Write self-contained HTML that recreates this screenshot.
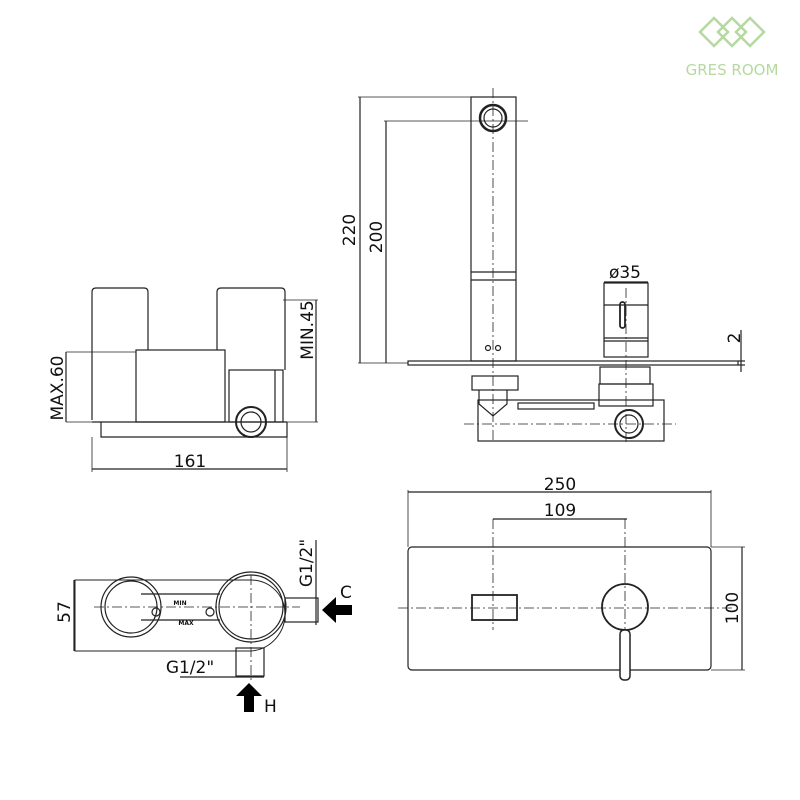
<!DOCTYPE html>
<html><head><meta charset="utf-8"><style>body{margin:0;background:#fff}svg{display:block}text{font-family:"DejaVu Sans","Liberation Sans",sans-serif;fill:#111}</style></head><body>
<svg width="800" height="800" viewBox="0 0 800 800" xmlns="http://www.w3.org/2000/svg">
<g fill="none" stroke="#222" stroke-width="1.2">
<!-- logo -->
<g stroke="#b5d9a0" stroke-width="2.5"><path d="M700 32l14-14 14 14-14 14z"/><path d="M718 32l14-14 14 14-14 14z"/><path d="M736 32l14-14 14 14-14 14z"/></g>
<!-- top-left view -->
<path d="M92 420V292q0-4 4-4h48q4 0 4 4v58"/>
<path d="M217 350v-58q0-4 4-4h60q4 0 4 4v78"/>
<rect x="136" y="350" width="89" height="72"/>
<rect x="229" y="370" width="54" height="52"/>
<line x1="275" y1="370" x2="275" y2="422"/>
<line x1="92" y1="422" x2="287" y2="422"/>
<path d="M101 422v15h186v-15"/>
<circle cx="251" cy="422" r="15" stroke-width="2"/><circle cx="251" cy="422" r="10"/>
<line x1="66" y1="352" x2="136" y2="352" stroke-width=".8"/><line x1="66" y1="422" x2="92" y2="422" stroke-width=".8"/>
<line x1="66" y1="352" x2="66" y2="422"/>
<line x1="283" y1="300" x2="318" y2="300" stroke-width=".8"/><line x1="287" y1="422" x2="318" y2="422" stroke-width=".8"/>
<line x1="316" y1="300" x2="316" y2="422"/>
<line x1="92" y1="437" x2="92" y2="472" stroke-width=".8"/><line x1="287" y1="437" x2="287" y2="472" stroke-width=".8"/>
<line x1="92" y1="469" x2="287" y2="469"/>
<!-- side view -->
<rect x="471" y="97" width="45" height="264"/>
<line x1="471" y1="272" x2="516" y2="272"/><line x1="471" y1="280" x2="516" y2="280"/>
<circle cx="493" cy="118" r="13" stroke-width="2.5"/><circle cx="493" cy="118" r="9"/>
<circle cx="488" cy="348" r="2.5"/><circle cx="498" cy="348" r="2.5"/>
<line x1="493" y1="88" x2="493" y2="440" stroke-dasharray="10 3 2 3" stroke-width=".8"/>
<rect x="408" y="361" width="330" height="4"/>
<line x1="358" y1="97" x2="471" y2="97" stroke-width=".8"/><line x1="384" y1="121" x2="528" y2="121" stroke-width=".8"/>
<line x1="360" y1="97" x2="360" y2="363"/><line x1="386" y1="121" x2="386" y2="363"/>
<line x1="358" y1="363" x2="408" y2="363" stroke-width=".8"/>
<rect x="604" y="283" width="44" height="74"/>
<line x1="604" y1="305" x2="648" y2="305"/><line x1="604" y1="338" x2="648" y2="338"/><line x1="604" y1="341" x2="648" y2="341"/>
<rect x="620" y="302" width="5" height="26" rx="2.5" stroke-width="1.8"/>
<line x1="626" y1="288" x2="626" y2="445" stroke-dasharray="10 3 2 3" stroke-width=".8"/>
<line x1="604" y1="282" x2="648" y2="282"/>
<rect x="600" y="367" width="50" height="17"/><rect x="599" y="384" width="54" height="22"/>
<rect x="472" y="376" width="46" height="14"/>
<path d="M479 390v14l14 12 14-12v-14"/>
<rect x="518" y="403" width="76" height="6"/>
<rect x="478" y="400" width="186" height="41"/>
<line x1="464" y1="424" x2="676" y2="424" stroke-dasharray="10 3 2 3" stroke-width=".8"/>
<circle cx="629" cy="424" r="14" stroke-width="2"/><circle cx="629" cy="424" r="9"/>
<line x1="741" y1="330" x2="741" y2="372"/>
<line x1="738" y1="361" x2="745" y2="361"/><line x1="738" y1="365" x2="745" y2="365"/>
<!-- bottom-left view -->
<path d="M75 580h176a34 34 0 0 1 34 34v0a37 37 0 0 1-34 37H75z" stroke-width="1"/>
<circle cx="131" cy="607" r="30"/><circle cx="131" cy="607" r="26"/>
<circle cx="251" cy="607" r="35"/><circle cx="251" cy="607" r="32"/>
<line x1="141" y1="594" x2="220" y2="594"/><line x1="141" y1="620" x2="220" y2="620"/>
<circle cx="156" cy="612" r="4"/><circle cx="210" cy="612" r="4"/>
<rect x="285" y="598" width="33" height="24"/>
<rect x="236" y="648" width="28" height="28"/>
<line x1="94" y1="607" x2="300" y2="607" stroke-dasharray="10 3 2 3" stroke-width=".8"/>
<line x1="251" y1="575" x2="251" y2="680" stroke-dasharray="10 3 2 3" stroke-width=".8"/>
<line x1="74" y1="580" x2="74" y2="651"/>
<line x1="316" y1="540" x2="316" y2="625"/>
<line x1="180" y1="677" x2="264" y2="677"/>
<!-- bottom-right -->
<rect x="408" y="547" width="303" height="123" rx="4"/>
<line x1="408" y1="492" x2="711" y2="492"/><line x1="408" y1="490" x2="408" y2="547" stroke-width=".8"/><line x1="711" y1="490" x2="711" y2="547" stroke-width=".8"/>
<line x1="493" y1="519" x2="627" y2="519"/>
<line x1="742" y1="547" x2="742" y2="670"/><line x1="711" y1="547" x2="745" y2="547" stroke-width=".8"/><line x1="711" y1="670" x2="745" y2="670" stroke-width=".8"/>
<line x1="398" y1="608" x2="735" y2="608" stroke-dasharray="10 3 2 3" stroke-width=".8"/>
<line x1="493" y1="519" x2="493" y2="630" stroke-dasharray="10 3 2 3" stroke-width=".8"/>
<line x1="625" y1="519" x2="625" y2="640" stroke-dasharray="10 3 2 3" stroke-width=".8"/>
<rect x="472" y="595" width="45" height="25" stroke-width="1.8"/>
<circle cx="625" cy="607" r="23" stroke-width="1.8"/>
<rect x="620" y="630" width="10" height="50" rx="4" fill="#fff" stroke-width="1.5"/>
</g>
<g fill="#000">
<path d="M322 610l14-13v8h16v10h-16v8z"/>
<path d="M249 683l-13 13h8v16h10v-16h8z"/>
</g>
<text x="732" y="75" font-size="15" text-anchor="middle" style="fill:#b5d9a0">GRES ROOM</text>
<g font-size="17">
<text x="190" y="467" text-anchor="middle">161</text>
<text transform="translate(63,388) rotate(-90)" text-anchor="middle">MAX.60</text>
<text transform="translate(313,330) rotate(-90)" text-anchor="middle">MIN.45</text>
<text transform="translate(355,230) rotate(-90)" text-anchor="middle">220</text>
<text transform="translate(382,237) rotate(-90)" text-anchor="middle">200</text>
<text x="625" y="278" text-anchor="middle">ø35</text>
<text transform="translate(740,338) rotate(-90)" text-anchor="middle">2</text>
<text x="560" y="490" text-anchor="middle">250</text>
<text x="560" y="516" text-anchor="middle">109</text>
<text transform="translate(738,608) rotate(-90)" text-anchor="middle">100</text>
<text transform="translate(70,612) rotate(-90)" text-anchor="middle">57</text>
<text transform="translate(312,563) rotate(-90)" text-anchor="middle">G1/2"</text>
<text x="190" y="673" text-anchor="middle">G1/2"</text>
<text x="340" y="598">C</text>
<text x="264" y="712">H</text>
</g>
<text x="180" y="605" font-size="6" text-anchor="middle" font-weight="bold">MIN</text>
<text x="186" y="625" font-size="6" text-anchor="middle" font-weight="bold">MAX</text>
</svg>
</body></html>
